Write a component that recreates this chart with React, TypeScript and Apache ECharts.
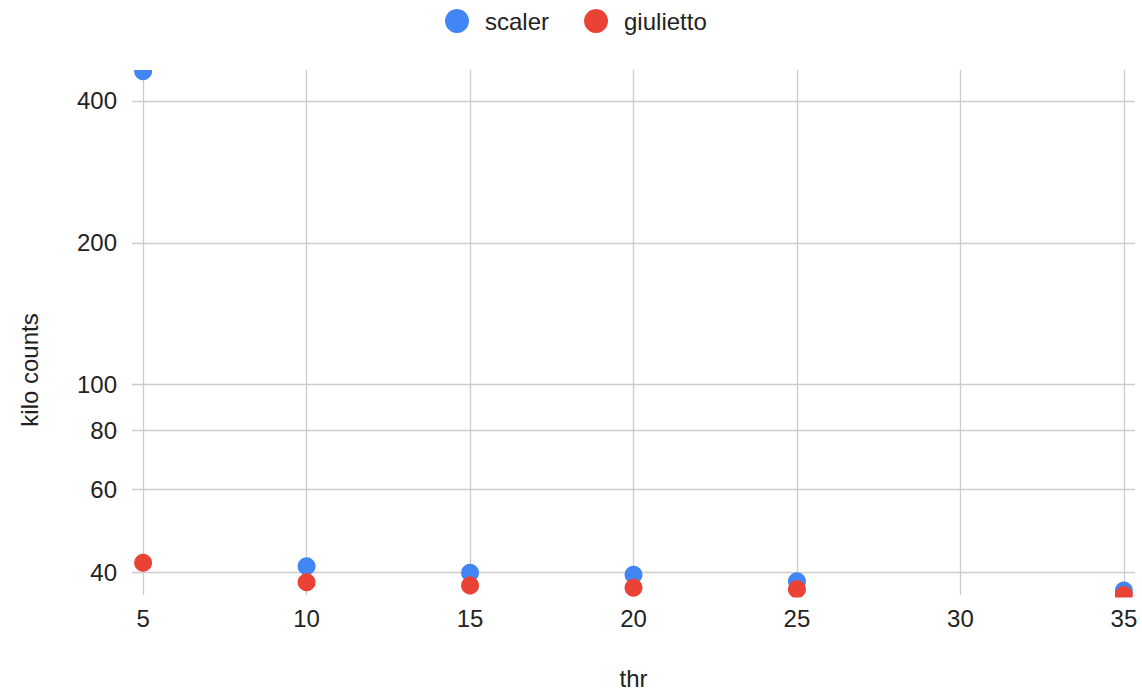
import React, { useEffect, useRef } from "react";
import * as echarts from "echarts";

const xValues = [5, 10, 15, 20, 25, 35];
const scalerValues = [462, 41.2, 39.9, 39.5, 38.3, 36.6];
const giuliettoValues = [41.9, 38.1, 37.5, 37.1, 36.8, 35.8];
const xTicks = [5, 10, 15, 20, 25, 30, 35];
const yTicks = [40, 60, 80, 100, 200, 400];
const seriesNames = ["scaler", "giulietto"];
const colors = ["#4285F4", "#EA4335"];

const FONT = "'Liberation Sans', Arial, sans-serif";

export default function App() {
  const ref = useRef<HTMLDivElement>(null);
  useEffect(() => {
    if (!ref.current) return;
    const chart = echarts.init(ref.current, undefined, { renderer: "svg" });
    const pair = (ys: number[]) => xValues.map((x, i) => [x, ys[i]]);
    chart.setOption({
      animation: false,
      backgroundColor: "#ffffff",
      textStyle: { fontFamily: FONT },
      legend: {
        top: 4,
        left: 440,
        padding: 5,
        icon: "circle",
        itemWidth: 46,
        itemHeight: 24,
        itemGap: 35,
        data: seriesNames,
        textStyle: { fontSize: 24, lineHeight: 24, color: "#222", fontFamily: FONT },
      },
      grid: { left: 132, right: 7, top: 70, bottom: 98, containLabel: false },
      xAxis: {
        type: "value",
        min: 4.66,
        max: 35.34,
        name: "thr",
        nameLocation: "middle",
        nameGap: 71,
        nameTextStyle: { fontSize: 24, color: "#222", fontFamily: FONT },
        axisLine: { show: false },
        axisTick: { show: false, customValues: xTicks },
        axisLabel: {
          customValues: xTicks,
          fontSize: 24,
          color: "#222",
          margin: 11,
          fontFamily: FONT,
        },
        splitLine: { show: true, lineStyle: { color: "#cccccc", width: 1.3 } },
      },
      yAxis: {
        type: "log",
        logBase: 10,
        min: 35.8,
        max: 465,
        axisLine: { show: false },
        axisTick: { show: false, customValues: yTicks },
        axisLabel: {
          customValues: yTicks,
          fontSize: 24,
          color: "#222",
          margin: 15,
          fontFamily: FONT,
        },
        splitLine: { show: true, lineStyle: { color: "#cccccc", width: 1.3 } },
      },
      graphic: [
        {
          type: "rect",
          z: 100,
          shape: { x: 0, y: 40, width: 1142, height: 30 },
          style: { fill: "#ffffff" },
        },
        {
          type: "rect",
          z: 100,
          shape: { x: 0, y: 597.5, width: 1142, height: 9 },
          style: { fill: "#ffffff" },
        },
        {
          type: "text",
          x: 29,
          y: 370,
          rotation: Math.PI / 2,
          style: {
            text: "kilo counts",
            fontSize: 24,
            fill: "#222",
            fontFamily: FONT,
            textAlign: "center",
            textVerticalAlign: "middle",
          },
        },
      ],
      series: [
        {
          name: seriesNames[0],
          type: "scatter",
          symbolSize: 18,
          itemStyle: { color: colors[0], opacity: 1 },
          clip: true,
          data: pair(scalerValues),
        },
        {
          name: seriesNames[1],
          type: "scatter",
          symbolSize: 18,
          itemStyle: { color: colors[1], opacity: 1 },
          clip: true,
          data: pair(giuliettoValues),
        },
      ],
    });
    return () => chart.dispose();
  }, []);
  return (
    <div
      ref={ref}
      style={{ position: "fixed", left: 0, top: 0, width: 1142, height: 695 }}
    />
  );
}
